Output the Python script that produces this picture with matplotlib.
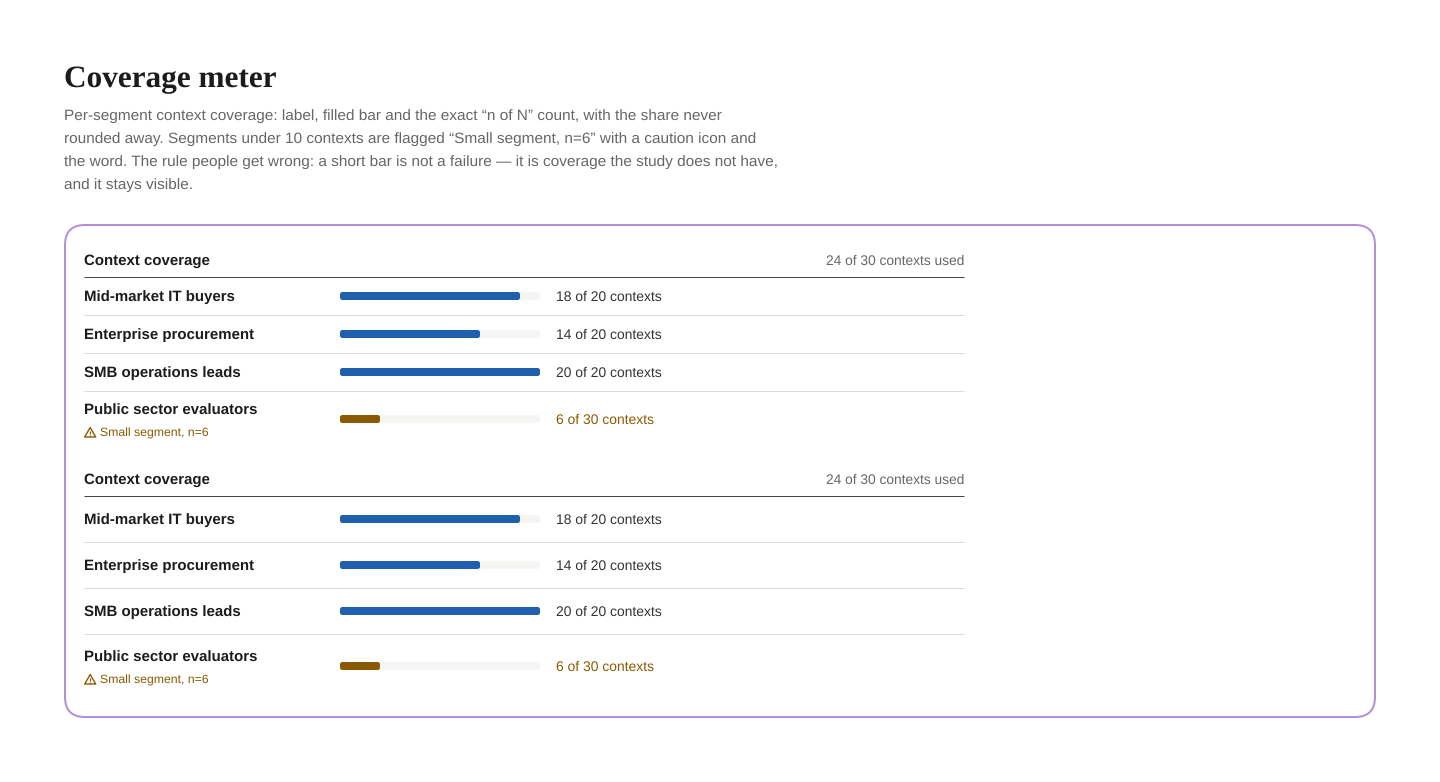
import matplotlib
matplotlib.use('Agg')
import matplotlib.pyplot as plt
from matplotlib.patches import FancyBboxPatch, Polygon

segments = ['Mid-market IT buyers', 'Enterprise procurement', 'SMB operations leads', 'Public sector evaluators']
used = [18, 14, 20, 6]
totals = [20, 20, 20, 30]
flag_text = 'Small segment, n=6'
header_left = 'Context coverage'
header_right = '24 of 30 contexts used'
title = 'Coverage meter'
intro = ['Per-segment context coverage: label, filled bar and the exact \u201cn of N\u201d count, with the share never',
         'rounded away. Segments under 10 contexts are flagged \u201cSmall segment, n=6\u201d with a caution icon and',
         'the word. The rule people get wrong: a short bar is not a failure \u2014 it is coverage the study does not have,',
         'and it stays visible.']

BLUE = '#205FAE'
BROWN = '#8A5A00'
INK = '#1C1C1C'
GREY = '#666666'
FONT = 'Liberation Sans'

plt.rcParams['font.family'] = FONT
plt.rcParams['text.hinting'] = 'no_hinting'

fig = plt.figure(figsize=(14.4, 7.82), dpi=100)
ax = fig.add_axes([0, 0, 1, 1])
ax.set_xlim(0, 1440)
ax.set_ylim(782, 0)
ax.axis('off')


def rounded(x, y, w, h, r, **kw):
    ax.add_patch(FancyBboxPatch((x + r, y + r), w - 2 * r, h - 2 * r,
                                boxstyle='round,pad=%f,rounding_size=%f' % (r, r), **kw))


def warn_icon(x, y):
    # little triangle, x is left edge, y is the bottom
    ax.add_patch(Polygon([(x, y), (x + 11, y), (x + 5.5, y - 9.5)], closed=True, fill=False,
                         edgecolor=BROWN, lw=1, joinstyle='round'))
    ax.plot([x + 5.5, x + 5.5], [y - 6, y - 3], color=BROWN, lw=0.9, solid_capstyle='butt')
    ax.plot([x + 5.5, x + 5.5], [y - 2, y - 1], color=BROWN, lw=0.9, solid_capstyle='butt')


def hline(y, color):
    ax.plot([83.6, 964], [y, y], color=color, lw=0.72, solid_capstyle='butt')


def draw_table(head_y, rule_y, row_ys, rule_ys):
    ax.text(84, head_y + 5, header_left, fontsize=10.85, fontweight='bold', color=INK)
    ax.text(964, head_y + 5, header_right, fontsize=9.95, color=GREY, ha='right')
    hline(rule_y, '#444444')
    for y in rule_ys:
        hline(y, '#DADADA')
    for i, seg in enumerate(segments):
        y = row_ys[i]
        small = used[i] < 10
        col = BROWN if small else BLUE
        share = used[i] / totals[i]
        rounded(340, y - 4, 200, 8, 2.5, facecolor='#F5F5F3', edgecolor='none')
        rounded(340, y - 4, 200 * share, 8, 2.5, facecolor=col, edgecolor='none')
        ax.text(556, y + 5, '%d of %d contexts' % (used[i], totals[i]), fontsize=10,
                color=BROWN if small else '#333333')
        if small:
            ax.text(84, y - 4.5, seg, fontsize=10.85, fontweight='bold', color=INK)
            warn_icon(84.7, y + 18)
            ax.text(100, y + 17.6, flag_text, fontsize=8.8, color=BROWN)
        else:
            ax.text(84, y + 5, seg, fontsize=10.85, fontweight='bold', color=INK)


ax.text(64, 87, title, fontsize=22.5, fontweight='bold', family='Liberation Serif', color=INK)
for i, line in enumerate(intro):
    ax.text(64, 120 + i * 23, line, fontsize=11.1, color=GREY)

rounded(65, 225, 1310, 492, 20, facecolor='white', edgecolor='#B48FD8', lw=1.45)

draw_table(260, 277, [296, 334, 372, 419], [315, 353, 391])
draw_table(479, 496, [519, 565, 611, 666], [542, 588, 634])

fig.savefig('out.png', dpi=100, facecolor='white')
